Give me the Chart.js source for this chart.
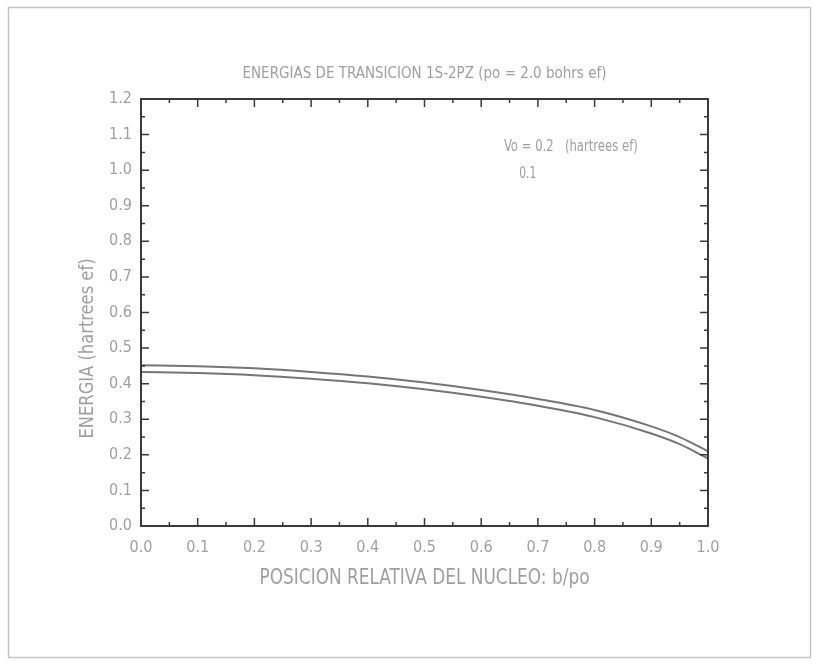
<!DOCTYPE html>
<html>
<head>
<meta charset="utf-8">
<script src="https://cdn.jsdelivr.net/npm/chart.js@4.4.1/dist/chart.umd.min.js"></script>
<style>
html,body{margin:0;padding:0;background:#fff;}
#wrap{width:823px;height:667px;position:relative;}
</style>
</head>
<body>
<div id="wrap"><canvas id="c" width="823" height="667"></canvas></div>
<script>
// ---- data ----
const positions = [0, 0.1, 0.2, 0.3, 0.4, 0.5, 0.6, 0.7, 0.8, 0.9, 0.95, 1.0];
const energyVo02 = [0.452, 0.449, 0.443, 0.433, 0.420, 0.403, 0.382, 0.357, 0.326, 0.280, 0.250, 0.210];
const energyVo01 = [0.433, 0.430, 0.424, 0.414, 0.401, 0.384, 0.363, 0.338, 0.306, 0.260, 0.230, 0.190];
const seriesLabels = ["0.2", "0.1"];
const chartTitle = "ENERGIAS DE TRANSICION 1S-2PZ (po = 2.0 bohrs ef)";
const xTitle = "POSICION RELATIVA DEL NUCLEO: b/po";
const yTitle = "ENERGIA (hartrees ef)";
const legendLine1 = "Vo = 0.2   (hartrees ef)";
const legendLine2 = "0.1";
const xTickStep = 0.1, yTickStep = 0.1;

const FONT = "'Liberation Sans Narrow','DejaVu Sans Condensed','Liberation Sans',sans-serif";
const TEXT_COLOR = "#9f9f9f";
const AXIS_COLOR = "#3a3a3a";
const LINE_COLOR = "#757575";

function toPoints(xs, ys){ return xs.map((x,i)=>({x:x, y:ys[i]})); }

function fitText(ctx, text, x, y, targetW, size, align, rotate){
  ctx.save();
  ctx.font = size + "px " + FONT;
  const w = ctx.measureText(text).width;
  ctx.translate(x, y);
  if (rotate) ctx.rotate(-Math.PI/2);
  ctx.scale(targetW / w, 1);
  ctx.textAlign = align || "center";
  ctx.textBaseline = "middle";
  ctx.fillStyle = TEXT_COLOR;
  ctx.fillText(text, 0, 0);
  ctx.restore();
}

const decor = {
  id: "decor",
  beforeDraw(chart){
    const ctx = chart.ctx;
    ctx.save();
    ctx.fillStyle = "#fff";
    ctx.fillRect(0,0,chart.width,chart.height);
    ctx.strokeStyle = "#c4c4c4";
    ctx.lineWidth = 1.5;
    ctx.strokeRect(8.5, 7.5, 802, 650);
    ctx.restore();
  },
  afterDraw(chart){
    const ctx = chart.ctx;
    const a = chart.chartArea;
    const xs = chart.scales.x, ys = chart.scales.y;
    ctx.save();
    ctx.strokeStyle = AXIS_COLOR;
    ctx.lineWidth = 2;
    ctx.strokeRect(a.left, a.top, a.right - a.left, a.bottom - a.top);
    ctx.lineWidth = 1.5;
    ctx.beginPath();
    for (let i = 0; i <= 20; i++){
      const v = i * xTickStep / 2;
      const px = xs.getPixelForValue(v);
      const len = (i % 2 === 0) ? 8 : 4;
      if (i > 0 && i < 20){
        ctx.moveTo(px, a.bottom); ctx.lineTo(px, a.bottom - len);
        ctx.moveTo(px, a.top); ctx.lineTo(px, a.top + len);
      }
    }
    for (let i = 0; i <= 24; i++){
      const v = i * yTickStep / 2;
      const py = ys.getPixelForValue(v);
      const len = (i % 2 === 0) ? 8 : 4;
      if (i > 0 && i < 24){
        ctx.moveTo(a.left, py); ctx.lineTo(a.left + len, py);
        ctx.moveTo(a.right, py); ctx.lineTo(a.right - len, py);
      }
    }
    ctx.stroke();
    ctx.restore();

    const cx = (a.left + a.right) / 2;
    fitText(ctx, chartTitle, cx, a.top - 25, 364, 15, "center");
    fitText(ctx, xTitle, cx, a.bottom + 52, 330, 22, "center");
    fitText(ctx, yTitle, a.left - 53, (a.top + a.bottom)/2 + 36, 180, 20, "center", true);
    fitText(ctx, legendLine1, xs.getPixelForValue(0.64), ys.getPixelForValue(1.065), 134, 15, "left");
    fitText(ctx, legendLine2, xs.getPixelForValue(0.667), ys.getPixelForValue(0.99), 17, 15, "left");
  }
};

new Chart(document.getElementById("c"), {
  type: "line",
  data: {
    datasets: [
      { label: seriesLabels[0], data: toPoints(positions, energyVo02), borderColor: LINE_COLOR, borderWidth: 2, pointRadius: 0, cubicInterpolationMode: "monotone", fill: false },
      { label: seriesLabels[1], data: toPoints(positions, energyVo01), borderColor: LINE_COLOR, borderWidth: 2, pointRadius: 0, cubicInterpolationMode: "monotone", fill: false }
    ]
  },
  options: {
    responsive: false,
    animation: false,
    devicePixelRatio: 1,
    layout: { padding: { left: 0, right: 115, top: 99, bottom: 0 } },
    plugins: { legend: { display: false }, title: { display: false }, tooltip: { enabled: false } },
    scales: {
      x: {
        type: "linear", min: 0, max: 1,
        grid: { display: false, drawTicks: false },
        border: { display: false },
        ticks: { stepSize: xTickStep, padding: 12, color: TEXT_COLOR, font: { family: FONT, size: 16 }, callback: v => Number(v).toFixed(1), maxRotation: 0 },
        afterFit: s => { s.height = 141; }
      },
      y: {
        type: "linear", min: 0, max: 1.2,
        grid: { display: false, drawTicks: false },
        border: { display: false },
        ticks: { stepSize: yTickStep, padding: 9, color: TEXT_COLOR, font: { family: FONT, size: 16 }, callback: v => Number(v).toFixed(1) },
        afterFit: s => { s.width = 141; }
      }
    }
  },
  plugins: [decor]
});
</script>
</body>
</html>
